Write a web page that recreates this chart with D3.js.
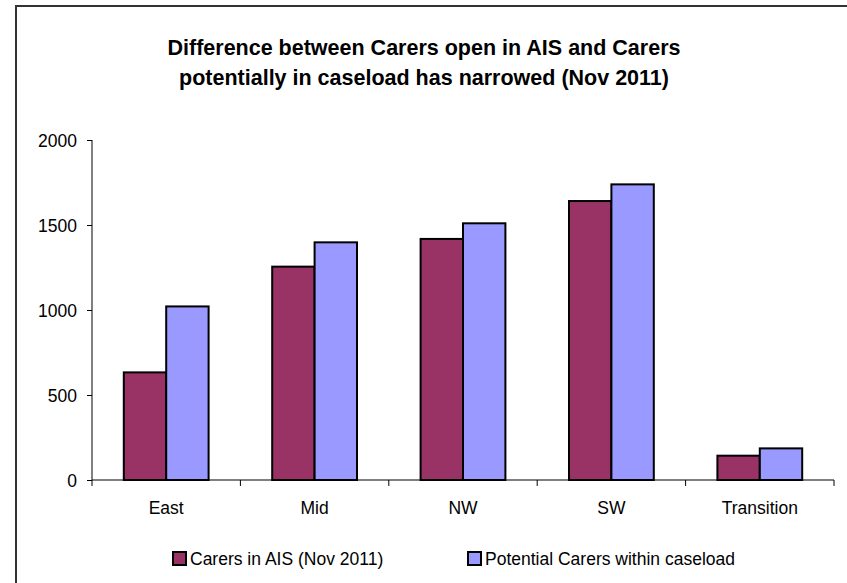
<!DOCTYPE html>
<html><head><meta charset="utf-8">
<script src="https://cdn.jsdelivr.net/npm/d3@7"></script>
<style>body{margin:0;background:#fff}svg{display:block}text{font-family:"Liberation Sans",Arial,sans-serif}</style>
</head><body>
<script>
const categories = ["East","Mid","NW","SW","Transition"];
const seriesNames = ["Carers in AIS (Nov 2011)","Potential Carers within caseload"];
const carersInAIS = [633,1255,1418,1641,143];
const potentialCarers = [1021,1398,1510,1739,186];
const yTicks = [0,500,1000,1500,2000];
const colors = ["#993366","#9999FF"];
const titleLines = ["Difference between Carers open in AIS and Carers","potentially in caseload has narrowed (Nov 2011)"];

const W=847,H=583;
const FONT="Liberation Sans, Arial, sans-serif";
const svg=d3.select("body").append("svg").attr("width",W).attr("height",H);
// outer border
svg.append("rect").attr("x",16).attr("y",6).attr("width",W).attr("height",H+10)
  .attr("fill","none").attr("stroke","#333").attr("stroke-width",2);

const x0=d3.scaleBand().domain(categories).range([92,834]).padding(0);
const x1=d3.scaleBand().domain([0,1]).range([0,x0.bandwidth()]).paddingInner(0).paddingOuter(0.75);
const y=d3.scaleLinear().domain([0,2000]).range([480,140]);

svg.append("g").selectAll("text").data(titleLines).join("text")
  .attr("x",424).attr("y",(d,i)=>55+i*30).attr("text-anchor","middle")
  .attr("font-size",21.5).attr("font-weight","bold").text(d=>d);

const data=categories.map((c,i)=>({c,v:[carersInAIS[i],potentialCarers[i]]}));
const g=svg.append("g");
g.selectAll("g").data(data).join("g").attr("transform",d=>`translate(${x0(d.c)},0)`)
 .selectAll("rect").data(d=>d.v.map((v,k)=>({v,k}))).join("rect")
 .attr("x",d=>x1(d.k)).attr("width",x1.bandwidth())
 .attr("y",d=>y(d.v)).attr("height",d=>y(0)-y(d.v))
 .attr("fill",d=>colors[d.k]).attr("stroke","#000").attr("stroke-width",2);

const ya=svg.append("g").attr("transform","translate(92,0)")
  .call(d3.axisLeft(y).tickValues(yTicks).tickFormat(d3.format("d")).tickSize(5).tickPadding(10));
ya.select(".domain").attr("d","M0,140V480");
ya.selectAll("text").attr("font-size",17.5).attr("font-family",FONT).attr("fill","#000").attr("dy","0.36em");

const xa=svg.append("g").attr("transform","translate(0,480)")
  .call(d3.axisBottom(x0).tickSize(0).tickPadding(0));
xa.select(".domain").attr("d","M92,0H834");
xa.selectAll("text").attr("font-size",17.5).attr("font-family",FONT).attr("fill","#000").attr("dy",null).attr("y",34);
xa.selectAll(".tk").data(d3.range(categories.length+1)).join("line").attr("class","tk")
  .attr("x1",i=>92+i*x0.step()).attr("x2",i=>92+i*x0.step()).attr("y1",0).attr("y2",6).attr("stroke","#000");
svg.selectAll(".domain,.tick line").attr("stroke","#000");

const legX=[173,468];
const lg=svg.append("g").selectAll("g").data(seriesNames).join("g")
  .attr("transform",(d,i)=>`translate(${legX[i]},552)`);
lg.append("rect").attr("width",13).attr("height",13).attr("fill",(d,i)=>colors[i]).attr("stroke","#000").attr("stroke-width",2);
lg.append("text").attr("x",17).attr("y",13).attr("font-size",17.5).text(d=>d);
</script>
</body></html>
